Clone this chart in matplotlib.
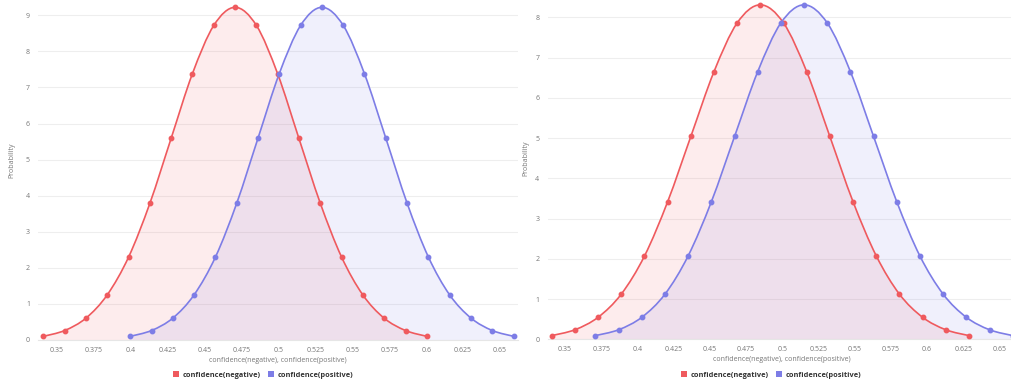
import matplotlib
matplotlib.use("Agg")
import matplotlib.pyplot as plt
from matplotlib.path import Path
from matplotlib.patches import PathPatch, Patch
import numpy as np

# ---------------- data ----------------
left_neg_x = [0.3408, 0.3552, 0.3696, 0.3840, 0.3985, 0.4129, 0.4273, 0.4417, 0.4562, 0.4706,
              0.4850, 0.4994, 0.5138, 0.5283, 0.5427, 0.5571, 0.5715, 0.5860, 0.6004]
left_pos_x = [0.3996, 0.4140, 0.4284, 0.4428, 0.4573, 0.4717, 0.4861, 0.5005, 0.5150, 0.5294,
              0.5438, 0.5582, 0.5727, 0.5871, 0.6015, 0.6159, 0.6304, 0.6448, 0.6592]
left_y = [0.102, 0.263, 0.606, 1.25, 2.30, 3.79, 5.59, 7.38, 8.72, 9.22,
          8.72, 7.38, 5.59, 3.79, 2.30, 1.25, 0.606, 0.263, 0.102]

right_neg_x = [0.3408, 0.3568, 0.3728, 0.3888, 0.4049, 0.4209, 0.4369, 0.4529, 0.4689, 0.4849,
               0.5009, 0.5169, 0.5329, 0.5489, 0.5650, 0.5810, 0.5970, 0.6130, 0.6290]
right_pos_x = [0.3710, 0.3870, 0.4030, 0.4190, 0.4350, 0.4511, 0.4671, 0.4831, 0.4991, 0.5151,
               0.5311, 0.5471, 0.5631, 0.5791, 0.5951, 0.6112, 0.6272, 0.6432, 0.6592]
right_y = [0.092, 0.237, 0.546, 1.12, 2.07, 3.42, 5.04, 6.65, 7.86, 8.31,
           7.86, 6.65, 5.04, 3.42, 2.07, 1.12, 0.546, 0.237, 0.092]

x_ticks = [0.35, 0.375, 0.4, 0.425, 0.45, 0.475, 0.5, 0.525, 0.55, 0.575, 0.6, 0.625, 0.65]
x_tick_labels = ["0.35", "0.375", "0.4", "0.425", "0.45", "0.475", "0.5", "0.525",
                 "0.55", "0.575", "0.6", "0.625", "0.65"]
series_names = ["confidence(negative)", "confidence(positive)"]
x_label = "confidence(negative), confidence(positive)"
y_label = "Probability"

RED = "#ef5a5e"
BLUE = "#7d7de6"
TXT = "#777777"

W, H = 1011, 385
fig = plt.figure(figsize=(W / 100, H / 100), dpi=100)
plt.rcParams["font.family"] = ["Open Sans", "DejaVu Sans"]


def smooth_path(xs, ys, closed_base=False):
    pts = np.column_stack([xs, ys]).astype(float)
    n = len(pts)
    verts = [pts[0]]
    codes = [Path.MOVETO]
    for i in range(n - 1):
        p_prev = pts[i - 1] if i > 0 else pts[i]
        p0 = pts[i]
        p1 = pts[i + 1]
        p_next = pts[i + 2] if i + 2 < n else pts[i + 1]
        c1 = p0 + (p1 - p_prev) / 6.0
        c2 = p1 - (p_next - p0) / 6.0
        verts += [c1, c2, p1]
        codes += [Path.CURVE4] * 3
    if closed_base:
        verts += [(xs[-1], 0), (xs[0], 0), pts[0]]
        codes += [Path.LINETO, Path.LINETO, Path.CLOSEPOLY]
    return Path(verts, codes)


def make_panel(rect_px, xlim, ylim, yticks, neg_x, pos_x, ys, legend_cx, ylab_px):
    l, r, b, t = rect_px
    ax = fig.add_axes([l / W, (H - b) / H, (r - l) / W, (b - t) / H])
    ax.set_xlim(*xlim)
    ax.set_ylim(*ylim)
    for xs, col in ((neg_x, RED), (pos_x, BLUE)):
        ax.add_patch(PathPatch(smooth_path(xs, ys, True), facecolor=col, alpha=0.11,
                               edgecolor="none", zorder=1))
    for xs, col in ((neg_x, RED), (pos_x, BLUE)):
        ax.add_patch(PathPatch(smooth_path(xs, ys), facecolor="none", edgecolor=col,
                               lw=1.2, zorder=3))
        ax.plot(xs, ys, "o", color=col, ms=3.2, zorder=4, clip_on=False)
    ax.set_xticks(x_ticks)
    ax.set_xticklabels(x_tick_labels)
    ax.set_yticks(yticks)
    ax.set_yticklabels([str(v) for v in yticks])
    ax.tick_params(axis="both", length=0, labelsize=5, labelcolor=TXT)
    ax.tick_params(axis="x", pad=5)
    ax.tick_params(axis="y", pad=6)
    ax.grid(axis="y", color="#eeeeee", lw=0.8, zorder=0)
    ax.set_axisbelow(True)
    for s in ("top", "right", "left"):
        ax.spines[s].set_visible(False)
    ax.spines["bottom"].set_color("#e6e6e6")
    ax.spines["bottom"].set_linewidth(0.8)
    ax.set_xlabel(x_label, fontsize=5, color=TXT, labelpad=2)
    ax.set_ylabel(y_label, fontsize=5, color=TXT)
    lx, ly = ylab_px
    ax.yaxis.set_label_coords((lx - l) / (r - l), (b - ly) / (b - t))
    handles = [Patch(facecolor=RED, edgecolor="none"), Patch(facecolor=BLUE, edgecolor="none")]
    fig.legend(handles, series_names, loc="center", ncol=2,
               bbox_to_anchor=(legend_cx / W, (H - 375) / H), frameon=False,
               prop={"size": 5.3, "weight": "bold"}, labelcolor="#333333",
               handlelength=0.9, handleheight=0.9, handletextpad=0.5, columnspacing=0.9)
    return ax


make_panel((38.3, 518, 340, 0), (0.33734, 0.66218), (0, 9.423), list(range(10)),
           left_neg_x, left_pos_x, left_y, 263, (15, 160))
make_panel((547.7, 1015, 339.3, 0), (0.33805, 0.66077), (0, 8.43), list(range(9)),
           right_neg_x, right_pos_x, right_y, 771, (529, 158))

fig.savefig("out.png", dpi=100)
